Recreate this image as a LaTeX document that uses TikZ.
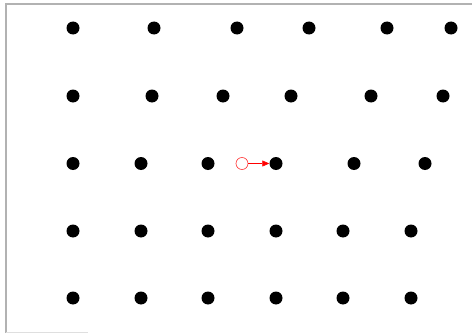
\documentclass[tikz,border=0pt]{standalone}
\usetikzlibrary{arrows.meta}
\tikzset{
  dot/.style={circle,fill=black,inner sep=0pt,minimum size=13pt},
  probe/.style={circle,draw=red!80,line width=0.6pt,inner sep=0pt,minimum size=12pt},
}
\begin{document}
\begin{tikzpicture}[x=1pt,y=1pt]
\useasboundingbox (0,0) rectangle (472,333);
%\draw[help lines,step=50] (0,0) grid (472,333);
\draw[gray!60,line width=1.3pt] (6,0) -- (6,329) -- (472,329);
\draw[gray!25,line width=0.8pt] (6,1) -- (88,1);

% rows of dots, top to bottom
\foreach \x [count=\i] in {73,154,237,309,387,451}
  \node[dot] (a\i) at (\x,305) {};
\foreach \x [count=\i] in {73,152,223,291,371,443}
  \node[dot] (b\i) at (\x,237) {};
\foreach \x [count=\i] in {73,141,208,276,354,425}
  \node[dot] (c\i) at (\x,169.5) {};
\foreach \x [count=\i] in {73,141,208,276,343,411}
  \node[dot] (d\i) at (\x,102) {};
\foreach \x [count=\i] in {73,141,208,276,343,411}
  \node[dot] (e\i) at (\x,35) {};

\node[probe] (p) at (242,169.5) {};
\draw[red,line width=0.6pt,-{Triangle[length=7pt,width=6pt]}] (p) -- (c4);
\end{tikzpicture}
\end{document}
